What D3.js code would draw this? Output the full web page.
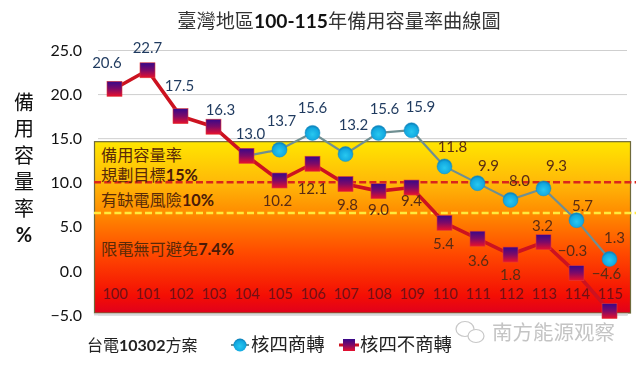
<!DOCTYPE html>
<html><head><meta charset="utf-8">
<script src="https://cdn.jsdelivr.net/npm/d3@7"></script>
<style>
html,body{margin:0;padding:0;background:#fff;overflow:hidden}
svg{display:block;filter:blur(0.45px)}
text{font-family:Lato,"Noto Sans CJK TC",sans-serif}
</style></head><body>
<script>
const years=["100","101","102","103","104","105","106","107","108","109","110","111","112","113","114","115"];
const yTicks=[-5,0,5,10,15,20,25];
const blueYears=["104","105","106","107","108","109","110","111","112","113","114","115"];
const blueValues=[13.0,13.7,15.6,13.2,15.6,15.9,11.8,9.9,8.0,9.3,5.7,1.3];
const redValues=[20.6,22.7,17.5,16.3,13.0,10.2,12.1,9.8,9.0,9.4,5.4,3.6,1.8,3.2,-0.3,-4.6];
const redLabelShift=[[-7.5,-26],[0,-23],[-1,-30],[7,-17],[4,-22],[-2,20],[0,25],[2,21],[0,19],[0,13],[-1,21],[1,22],[0,20],[-1,-16],[-4,-22],[-3,-37]];
const blueLabelShift=[null,[2,-29],[0,-25],[8,-29],[6,-24],[9,-23],[8,-20],[11,-17],[9,-19],[13,-23],[6,-14],[5,-21]];
const riskLines=[{v:10,c:"#d9261c"},{v:6.5,c:"#ffe93c"}];
const zoneNotes=[["備用容量率","",161],["規劃目標","15%",181],["有缺電風險","10%",206],["限電無可避免","7.4%",255]];
const yTitle=["備","用","容","量","率","%"];

const svg=d3.select("body").append("svg").attr("width",636).attr("height",366);
const defs=svg.append("defs");
const bg=defs.append("linearGradient").attr("id","bg").attr("x1",0).attr("x2",0).attr("y1",0).attr("y2",1);
[[0,"#ffe600"],[.24,"#ffb808"],[.42,"#ff8a00"],[.65,"#ff4a00"],[.9,"#f40e04"],[1,"#e0001c"]].forEach(d=>bg.append("stop").attr("offset",d[0]).attr("stop-color",d[1]));
const sq=defs.append("linearGradient").attr("id","sq").attr("x1",0).attr("x2",0).attr("y1",0).attr("y2",1);
[[0,"#36088a"],[.5,"#7e0a68"],[1,"#e8102c"]].forEach(d=>sq.append("stop").attr("offset",d[0]).attr("stop-color",d[1]));
const ci=defs.append("radialGradient").attr("id","ci").attr("cx",.5).attr("cy",.6).attr("r",.6);
[[0,"#28c8f0"],[.7,"#12a8e0"],[1,"#0a78b0"]].forEach(d=>ci.append("stop").attr("offset",d[0]).attr("stop-color",d[1]));

const x=d3.scalePoint().domain(years).range([114.5,609.5]);
const y=d3.scaleLinear().domain([-5,25]).range([314.5,50]);

const ya=svg.append("g").attr("transform","translate(98,0)")
  .call(d3.axisLeft(y).tickValues(yTicks).tickFormat(d3.format(".1f")).tickSize(0).tickPadding(16));
ya.select(".domain").remove();
ya.selectAll("text").attr("font-size",16).attr("fill","#111").attr("dy","0.35em");
ya.selectAll("line").attr("x2",529).attr("stroke","#cfcfcf").attr("stroke-width",1);

svg.append("rect").attr("x",94.5).attr("y",y(15)+3.5).attr("width",536).attr("height",y(-5)-y(15)-5)
  .attr("fill","url(#bg)").attr("stroke","#6f6a3a").attr("stroke-width",1.2);
svg.append("rect").attr("x",94).attr("y",y(-5)-1).attr("width",534).attr("height",2).attr("fill","#d8d8dc");

riskLines.forEach(r=>svg.append("line").attr("x1",94).attr("x2",636).attr("y1",y(r.v)).attr("y2",y(r.v))
  .attr("stroke",r.c).attr("stroke-width",2.5).attr("stroke-dasharray","7 3.2"));

zoneNotes.forEach(n=>{
  const t=svg.append("text").attr("x",101).attr("y",n[2]).attr("font-size",16.2).attr("fill","#5a2a08");
  t.append("tspan").text(n[0]);
  t.append("tspan").attr("font-weight",700).attr("fill","#4a1a08").text(n[1]);
});

const xa=svg.append("g").attr("transform","translate(0,279)")
  .call(d3.axisBottom(x).tickSize(0).tickPadding(10));
xa.select(".domain").remove();
xa.selectAll("text").attr("font-size",14.5).attr("fill","#701018");

const blueLine=d3.line().x((d,i)=>x(blueYears[i])).y(d=>y(d));
const redLine=d3.line().x((d,i)=>x(years[i])).y(d=>y(d));
svg.append("path").attr("d",blueLine(blueValues)).attr("fill","none").attr("stroke","#6f8f92").attr("stroke-width",2.2);
svg.append("path").attr("d",redLine(redValues)).attr("fill","none").attr("stroke","#cc1220").attr("stroke-width",3.6);

svg.selectAll(".b").data(blueValues).join("circle").attr("class","b")
  .attr("cx",(d,i)=>x(blueYears[i])).attr("cy",d=>y(d)).attr("r",7.5)
  .attr("fill","url(#ci)").attr("stroke","#1890c8").attr("stroke-width",.5)
  .filter((d,i)=>i===0).remove();
svg.selectAll(".r").data(redValues).join("rect").attr("class","r")
  .attr("x",(d,i)=>x(years[i])-7.5).attr("y",d=>y(d)-7.5).attr("width",15).attr("height",15)
  .attr("fill","url(#sq)").attr("stroke","#e03a3a").attr("stroke-width",.6);

const fmt=d3.format(".1f");
const label=(val,px,shift)=>svg.append("text").attr("x",px+shift[0]).attr("y",y(val)+shift[1])
  .attr("text-anchor","middle").attr("dy","0.35em").attr("font-size",15)
  .attr("fill",(y(val)+shift[1]>142)?"#5a2c14":"#1f3a5f").text(fmt(val));
redValues.forEach((v,i)=>label(v,x(years[i]),redLabelShift[i]));
blueValues.forEach((v,i)=>{if(blueLabelShift[i])label(v,x(blueYears[i]),blueLabelShift[i]);});

const title=svg.append("text").attr("x",339).attr("y",28).attr("text-anchor","middle").attr("font-size",19.2).attr("fill","#333");
title.append("tspan").text("臺灣地區");
title.append("tspan").attr("font-weight",700).attr("fill","#111").text("100-115");
title.append("tspan").text("年備用容量率曲線圖");
svg.selectAll(".yt").data(yTitle).join("text").attr("class","yt")
  .attr("x",24).attr("y",(d,i)=>110+i*26.4).attr("text-anchor","middle").attr("font-size",20)
  .attr("font-weight",(d,i)=>i===5?700:400).attr("fill","#111").text(d=>d);

const src=svg.append("text").attr("x",87).attr("y",351).attr("font-size",16).attr("fill","#222");
src.append("tspan").text("台電");src.append("tspan").attr("font-weight",700).text("10302");src.append("tspan").text("方案");
svg.append("line").attr("x1",231).attr("x2",249).attr("y1",345).attr("y2",345).attr("stroke","#6f8f92").attr("stroke-width",2);
svg.append("circle").attr("cx",240).attr("cy",345).attr("r",6.5).attr("fill","url(#ci)");
svg.append("text").attr("x",251).attr("y",351).attr("font-size",18.4).attr("fill","#222").text("核四商轉");
svg.append("line").attr("x1",339).attr("x2",359).attr("y1",345).attr("y2",345).attr("stroke","#cc1220").attr("stroke-width",3);
svg.append("rect").attr("x",343).attr("y",339).attr("width",12).attr("height",12).attr("fill","url(#sq)");
svg.append("text").attr("x",360).attr("y",351).attr("font-size",18.4).attr("fill","#222").text("核四不商轉");

const wm=svg.append("g").attr("fill","#fff").attr("stroke","#c8c8c8").attr("stroke-width",1.2);
wm.append("ellipse").attr("cx",465).attr("cy",329).attr("rx",9).attr("ry",7.5);
wm.append("ellipse").attr("cx",476).attr("cy",336).attr("rx",8).attr("ry",6.5);
svg.append("text").attr("x",492).attr("y",340).attr("font-size",20.5).attr("fill","#c4c4c4").text("南方能源观察");
</script>
</body></html>
